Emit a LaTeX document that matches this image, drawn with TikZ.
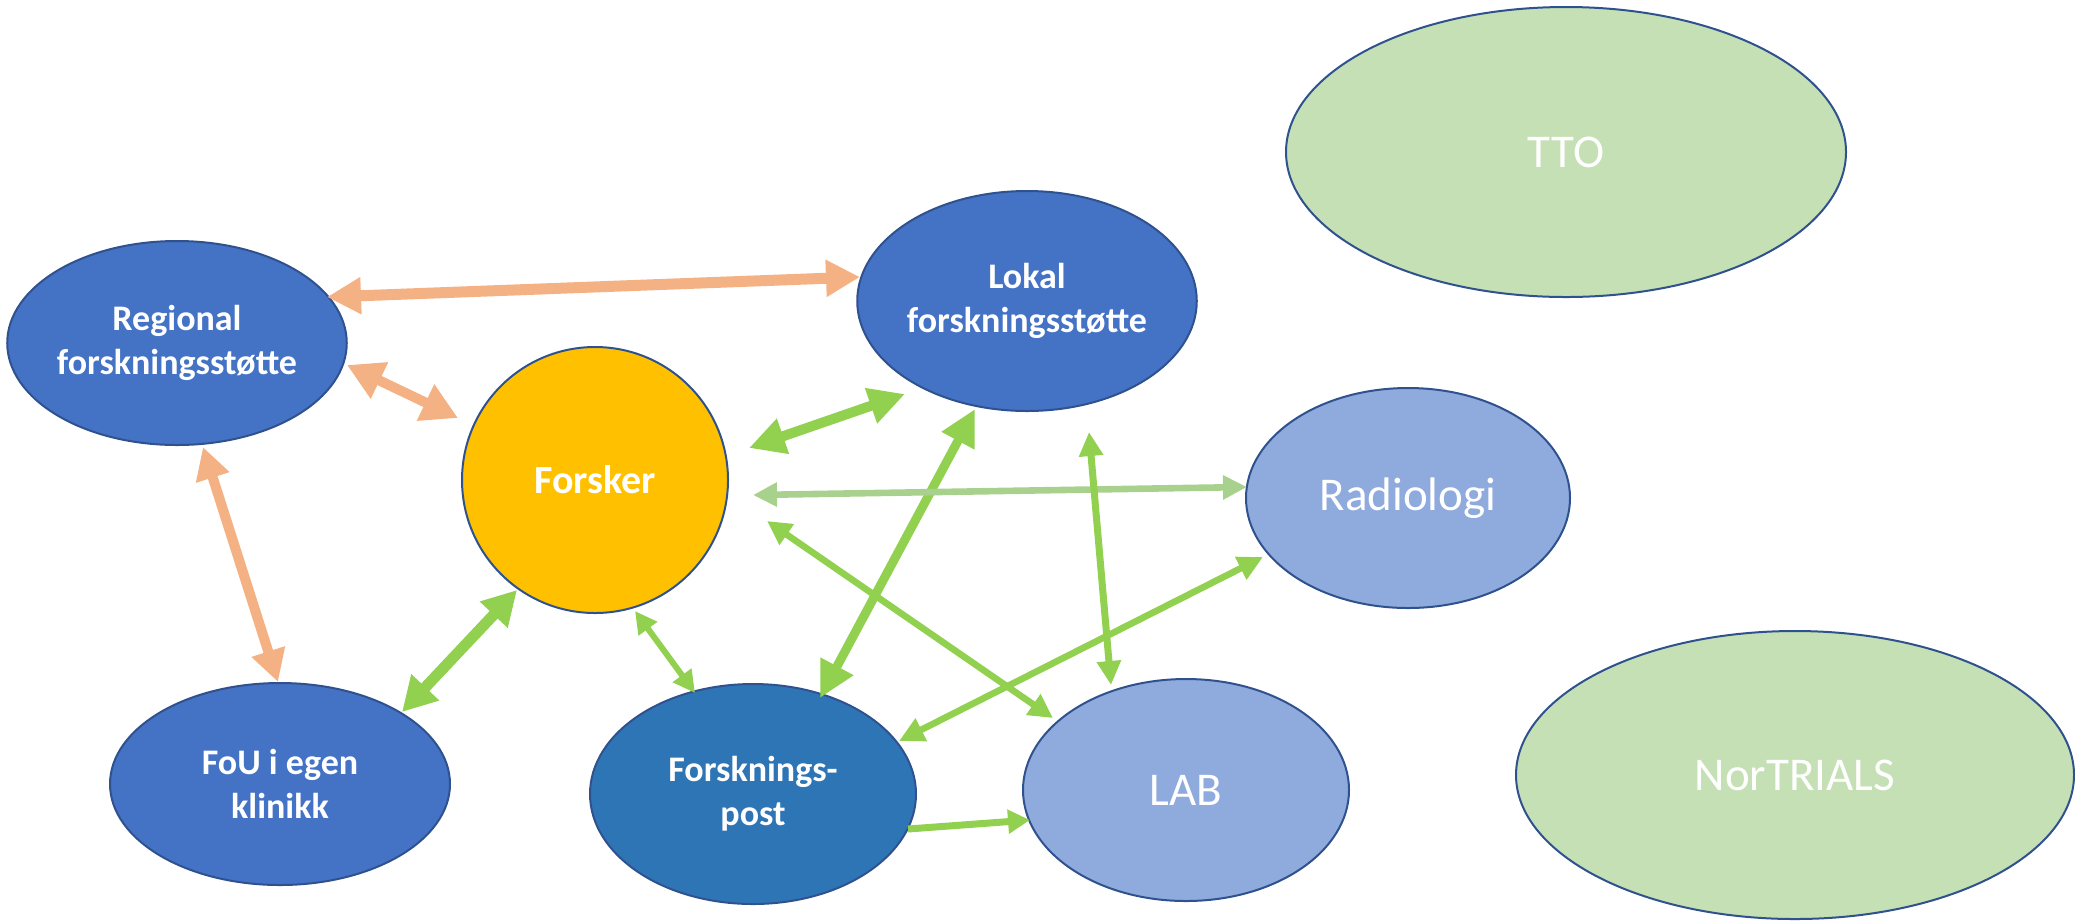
\documentclass[tikz,border=0pt]{standalone}
\usepackage{fontspec}
\setmainfont{Carlito}
\usetikzlibrary{shapes.geometric,arrows.meta,calc}
\definecolor{dblue}{HTML}{4472C4}
\definecolor{mblue}{HTML}{2E75B6}
\definecolor{lblue}{HTML}{8FAADC}
\definecolor{lgreen}{HTML}{C5E0B4}
\definecolor{gold}{HTML}{FFC000}
\definecolor{edgeblue}{HTML}{2F528F}
\definecolor{orng}{HTML}{F4B183}
\definecolor{grn}{HTML}{92D050}
\definecolor{pgrn}{HTML}{A9D18E}
\begin{document}
\begin{tikzpicture}[x=0.5pt,y=-0.5pt,
  bubble/.style={ellipse, draw=edgeblue, line width=1pt, inner sep=0pt, text=white, align=center},
  boldtxt/.style={font=\fontsize{18}{22}\selectfont\bfseries},
  bigbold/.style={font=\fontsize{20}{24}\selectfont\bfseries},
  plaintxt/.style={font=\fontsize{23.5}{28}\selectfont},
  link/.style n args={4}{draw=#1, line width=#2,
    arrows={Triangle[width=#3,length=#4]-Triangle[width=#3,length=#4]}},
  onelink/.style n args={4}{draw=#1, line width=#2,
    arrows={-Triangle[width=#3,length=#4]}}
]
\useasboundingbox (0,0) rectangle (2075,923);

% nodes
\node[bubble, fill=dblue, boldtxt, minimum width=167pt, minimum height=102pt] (reg) at (177,343) {Regional\\forskningsstøtte};
\node[bubble, fill=dblue, boldtxt, minimum width=163pt, minimum height=110pt] (lok) at (1027,301) {Lokal\\forskningsstøtte};
\node[bubble, fill=lgreen, plaintxt, minimum width=280pt, minimum height=145pt] (tto) at (1566,152) {TTO};
\node[bubble, fill=gold, bigbold, minimum width=133pt, minimum height=133pt] (fors) at (595,480) {Forsker};
\node[bubble, fill=lblue, plaintxt, minimum width=162pt, minimum height=110pt] (rad) at (1408,498) {Radiologi};
\node[bubble, fill=dblue, boldtxt, minimum width=170pt, minimum height=101pt] (fou) at (280,784) {FoU i egen\\klinikk};
\node[bubble, fill=mblue, boldtxt, minimum width=163pt, minimum height=110pt] (post) at (753,794) {Forsknings-\\post};
\node[bubble, fill=lblue, plaintxt, minimum width=163pt, minimum height=111pt] (lab) at (1186,790) {LAB};
\node[bubble, fill=lgreen, plaintxt, minimum width=279pt, minimum height=144pt] (nor) at (1795,775) {NorTRIALS};

% orange connectors
\draw[link={orng}{5.5pt}{17.5pt}{17pt}] ($(reg)+(150,-46)$) -- ($(lok)+(-167,-24)$);
\draw[link={orng}{5pt}{19pt}{18pt}] ($(reg)+(170,22)$) -- ($(fors)+(-137,-62)$);
\draw[link={orng}{5pt}{16.5pt}{16pt}] ($(reg)+(26,104)$) -- ($(fou)+(-2,-102)$);

% green connectors
\draw[link={grn}{5.5pt}{18pt}{17pt}] ($(fou)+(122,-72)$) -- ($(fors)+(-78,110)$);
\draw[link={grn}{5pt}{17.5pt}{18pt}] ($(fors)+(154,-32)$) -- ($(lok)+(-122,93)$);
\draw[link={grn}{3.3pt}{12pt}{12pt}] ($(fors)+(172,41)$) -- ($(lab)+(-133,-72)$);
\draw[link={grn}{4.5pt}{17.5pt}{18pt}] ($(post)+(67,-96)$) -- ($(lok)+(-52,108)$);
\draw[link={pgrn}{3.3pt}{11.5pt}{12pt}] ($(fors)+(158,15)$) -- ($(rad)+(-161,-11)$);
\draw[link={grn}{3.5pt}{11.5pt}{12pt}] ($(lok)+(62,131)$) -- ($(lab)+(-75,-105)$);
\draw[link={grn}{3pt}{11pt}{11pt}] ($(fors)+(40,131)$) -- ($(post)+(-58,-101)$);
\draw[link={grn}{3.3pt}{12pt}{12.5pt}] ($(post)+(146,-53)$) -- ($(rad)+(-145,59)$);
\draw[onelink={grn}{3.5pt}{11.5pt}{11pt}] ($(post)+(155,35)$) -- ($(lab)+(-156,30)$);
\end{tikzpicture}
\end{document}
